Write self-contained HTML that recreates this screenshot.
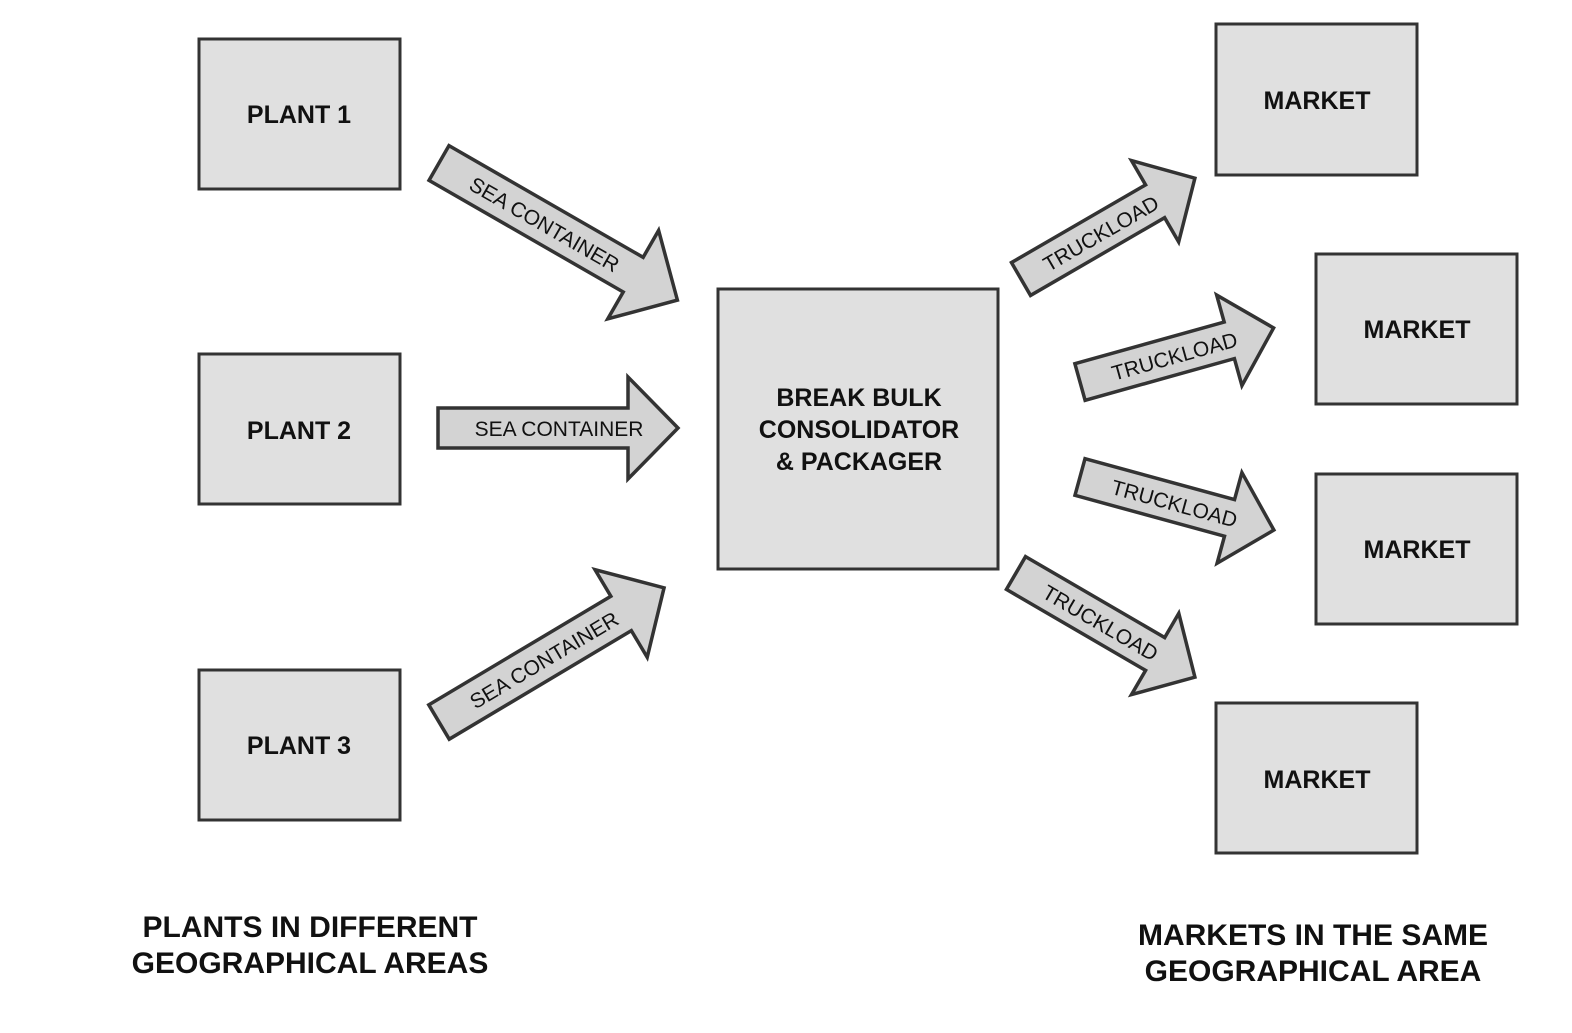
<!DOCTYPE html>
<html><head><meta charset="utf-8"><style>
html,body{margin:0;padding:0;background:#fff;}
svg{display:block;font-family:"Liberation Sans",Arial,sans-serif;}
.b{fill:#e0e0e0;stroke:#333;stroke-width:3;}
.a{fill:#d3d3d3;stroke:#333;stroke-width:3.5;stroke-linejoin:miter;}
.bt{font-weight:bold;font-size:25px;fill:#111;text-anchor:middle;}
.at{font-size:21px;fill:#111;text-anchor:middle;}
.ft{font-weight:bold;font-size:30px;fill:#111;text-anchor:middle;}
</style></head><body>
<svg width="1572" height="1033" viewBox="0 0 1572 1033">
<rect class="b" x="199" y="39" width="201" height="150"/>
<rect class="b" x="199" y="354" width="201" height="150"/>
<rect class="b" x="199" y="670" width="201" height="150"/>
<rect class="b" x="718" y="289" width="280" height="280"/>
<rect class="b" x="1216" y="24" width="201" height="151"/>
<rect class="b" x="1316" y="254" width="201" height="150"/>
<rect class="b" x="1316" y="474" width="201" height="150"/>
<rect class="b" x="1216" y="703" width="201" height="150"/>
<text class="bt" x="299" y="123">PLANT 1</text>
<text class="bt" x="299" y="439">PLANT 2</text>
<text class="bt" x="299" y="754">PLANT 3</text>
<text class="bt" x="859" y="406">BREAK BULK</text>
<text class="bt" x="859" y="438">CONSOLIDATOR</text>
<text class="bt" x="859" y="470">&amp; PACKAGER</text>
<text class="bt" x="1317" y="109">MARKET</text>
<text class="bt" x="1417" y="338">MARKET</text>
<text class="bt" x="1417" y="558">MARKET</text>
<text class="bt" x="1317" y="788">MARKET</text>

<!-- sea container arrows -->
<g transform="translate(439,163) rotate(29.9)">
<polygon class="a" points="0,-20 224,-20 224,-51 275,0 224,51 224,20 0,20"/>
<text class="at" x="122" y="8">SEA CONTAINER</text></g>
<g transform="translate(438,428)">
<polygon class="a" points="0,-20 190,-20 190,-51 240,0 190,51 190,20 0,20"/>
<text class="at" x="121" y="8">SEA CONTAINER</text></g>
<g transform="translate(439,722) rotate(-30.8)">
<polygon class="a" points="0,-20 212,-20 212,-51 262,0 212,51 212,20 0,20"/>
<text class="at" x="122" y="8">SEA CONTAINER</text></g>

<!-- truckload arrows -->
<g transform="translate(1021,279) rotate(-30.1)">
<polygon class="a" points="0,-19 155,-19 155,-47 201,0 155,47 155,19 0,19"/>
<text class="at" x="92" y="8">TRUCKLOAD</text></g>
<g transform="translate(1080,382) rotate(-15.6)">
<polygon class="a" points="0,-19 155,-19 155,-47 201,0 155,47 155,19 0,19"/>
<text class="at" x="98" y="8">TRUCKLOAD</text></g>
<g transform="translate(1080,477) rotate(15.3)">
<polygon class="a" points="0,-19 155,-19 155,-47 201,0 155,47 155,19 0,19"/>
<text class="at" x="98" y="8">TRUCKLOAD</text></g>
<g transform="translate(1016,573) rotate(30.2)">
<polygon class="a" points="0,-19 161,-19 161,-47 207,0 161,47 161,19 0,19"/>
<text class="at" x="98" y="8">TRUCKLOAD</text></g>

<text class="ft" x="310" y="937">PLANTS IN DIFFERENT</text>
<text class="ft" x="310" y="973">GEOGRAPHICAL AREAS</text>
<text class="ft" x="1313" y="945">MARKETS IN THE SAME</text>
<text class="ft" x="1313" y="981">GEOGRAPHICAL AREA</text>
</svg>
</body></html>
